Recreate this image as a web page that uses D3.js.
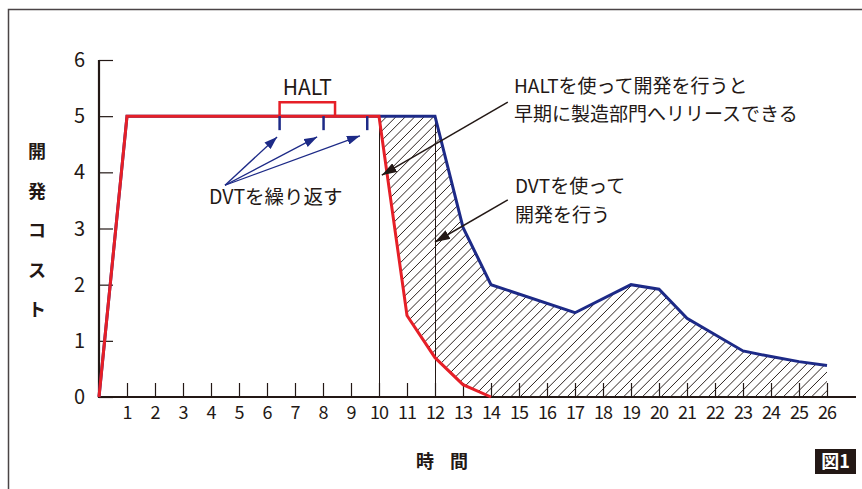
<!DOCTYPE html>
<html><head><meta charset="utf-8">
<script src="https://cdn.jsdelivr.net/npm/d3@7/dist/d3.min.js"></script>
<style>
html,body{margin:0;padding:0;background:#fff;}
svg{display:block;}
text{font-family:"Noto Sans CJK JP","Noto Sans",sans-serif;fill:#231815;}
</style></head>
<body>
<svg id="c" width="862" height="489"></svg>
<script>
// ---- data ----
const xTicks = d3.range(1, 27);
const yTicks = [0, 1, 2, 3, 4, 5, 6];
// DVT development (blue)
const blueTime  = [0, 1, 12, 13, 14, 17, 19, 20, 21, 23, 24, 25, 26];
const blueCost  = [0, 5, 5, 3.02, 2.0, 1.5, 2.0, 1.92, 1.4, 0.82, 0.72, 0.63, 0.56];
// HALT development (red)
const redTime   = [0, 1, 10, 11, 12, 13, 14];
const redCost   = [0, 5, 5, 1.45, 0.7, 0.22, 0];
// DVT repetitions and HALT span
const dvtTimes  = [6.45, 8.02, 9.58];
const haltSpan  = [6.45, 8.43];
const haltLevel = 5.25;
const releaseTimes = [10, 12];

const yLabel = ["開","発","コ","ス","ト"];
const xLabel = ["時","間"];

const svg = d3.select("#c");
const x = d3.scaleLinear().domain([0, 26]).range([99, 827]);
const y = d3.scaleLinear().domain([0, 6]).range([397, 60]);
const ink = "#231815", red = "#e61f27", blue = "#1d2a87";

// frame
svg.append("path").attr("d", "M8.5,489 V9.5 H862").attr("fill","none").attr("stroke","#4a4446").attr("stroke-width",1.5);

// defs
const defs = svg.append("defs");
function marker(id, color, w, h){
  defs.append("marker").attr("id",id).attr("viewBox",`0 0 ${w} ${h}`).attr("refX",w).attr("refY",h/2)
    .attr("markerWidth",w).attr("markerHeight",h).attr("markerUnits","userSpaceOnUse").attr("orient","auto")
    .append("path").attr("d",`M0,0 L${w},${h/2} L0,${h} Z`).attr("fill",color);
}
marker("ab", blue, 13, 9);
marker("ak", ink, 15, 10);

const pts = (ts, vs) => ts.map((t,i)=>[t, vs[i]]);
const line = d3.line().x(d=>x(d[0])).y(d=>y(d[1]));

// hatched area between red and blue after t=10
const bluePts = pts(blueTime, blueCost);
const redPts = pts(redTime, redCost);
const poly = [[10,5]].concat(bluePts.filter(d=>d[0]>10))
  .concat([[blueTime[blueTime.length-1], 0]])
  .concat(redPts.filter(d=>d[0]>=10).reverse());
defs.append("clipPath").attr("id","hclip").append("path").attr("d", line(poly)+"Z");
const hg = svg.append("g").attr("clip-path","url(#hclip)");
const step = 9.4;
for (let c = x(10) - (y(0)-y(5)) - 20; c < x(26) + 20; c += step) {
  hg.append("line").attr("x1",c).attr("y1",y(0)).attr("x2",c+(y(0)-y(5))).attr("y2",y(5))
    .attr("stroke",ink).attr("stroke-width",0.95);
}

// release vertical lines
releaseTimes.forEach(t=>{
  const xx = Math.round(x(t)) + 0.5;
  svg.append("line").attr("x1",xx).attr("x2",xx).attr("y1",y(0)).attr("y2",y(5))
    .attr("stroke",ink).attr("stroke-width",1).attr("shape-rendering","crispEdges");
});

// axes
const gy = svg.append("g").attr("transform",`translate(${x(0)},0)`)
  .call(d3.axisRight(y).tickValues(yTicks).tickSize(14).tickFormat(""));
gy.select(".domain").remove();
gy.selectAll("line").attr("stroke",ink).attr("stroke-width",1.2);
const gx = svg.append("g").attr("transform",`translate(0,${y(0)})`)
  .call(d3.axisTop(x).tickValues(xTicks).tickSize(14).tickFormat(""));
gx.select(".domain").remove();
gx.selectAll("line").attr("stroke",ink).attr("stroke-width",1.2);
svg.append("line").attr("x1",x(0)).attr("x2",x(0)).attr("y1",y(0)+1).attr("y2",y(6)).attr("stroke",ink).attr("stroke-width",2.2);
svg.append("line").attr("x1",x(0)-1).attr("x2",856).attr("y1",y(0)).attr("y2",y(0)).attr("stroke",ink).attr("stroke-width",2.2);

// tick labels
svg.selectAll(".yl").data(yTicks).enter().append("text")
  .attr("x",85).attr("y",d=>y(d)).attr("dy","0.35em").attr("text-anchor","end")
  .attr("font-size",20).text(d=>d);
svg.selectAll(".xl").data(xTicks).enter().append("text")
  .attr("x",d=>x(d)).attr("y",413).attr("dy","0.35em").attr("text-anchor","middle")
  .attr("font-size",18).attr("letter-spacing",-1).text(d=>d);

// axis titles
svg.selectAll(".yt").data(yLabel).enter().append("text")
  .attr("x",37).attr("y",(d,i)=>152+i*39.5).attr("dy","0.35em").attr("text-anchor","middle")
  .attr("font-size",18).attr("font-weight","bold").text(d=>d);
svg.selectAll(".xt").data(xLabel).enter().append("text")
  .attr("x",(d,i)=>425+i*34).attr("y",462).attr("dy","0.35em").attr("text-anchor","middle")
  .attr("font-size",18).attr("font-weight","bold").text(d=>d);

// series lines
svg.append("path").attr("d",line(bluePts)).attr("fill","none").attr("stroke",blue).attr("stroke-width",3).attr("stroke-linejoin","miter");
svg.append("path").attr("d",line(redPts)).attr("fill","none").attr("stroke",red).attr("stroke-width",3).attr("stroke-linejoin","miter");

// HALT bracket
svg.append("path").attr("d",`M${x(haltSpan[0])},${y(5)} V${y(haltLevel)} H${x(haltSpan[1])} V${y(5)}`)
  .attr("fill","none").attr("stroke",red).attr("stroke-width",2.5);
svg.append("text").attr("x",(x(haltSpan[0])+x(haltSpan[1]))/2).attr("y",95).attr("text-anchor","middle")
  .attr("font-size",21).text("HALT");

// DVT ticks
dvtTimes.forEach(t=>{
  svg.append("line").attr("x1",x(t)).attr("x2",x(t)).attr("y1",y(5)).attr("y2",y(5)+14)
    .attr("stroke",blue).attr("stroke-width",2.5);
});
// DVT arrows (data coords)
const dvtFrom = [4.5, 3.77];
const dvtTips = [[6.36,4.63],[7.79,4.63],[9.32,4.65]];
dvtTips.forEach(tp=>{
  svg.append("line").attr("x1",x(dvtFrom[0])).attr("y1",y(dvtFrom[1])).attr("x2",x(tp[0])).attr("y2",y(tp[1]))
    .attr("stroke",blue).attr("stroke-width",1.3).attr("marker-end","url(#ab)");
});
svg.append("text").attr("x",209).attr("y",204).attr("font-size",19.5).text("DVTを繰り返す");

// leader arrows
const leaders = [[[14.6,5.25],[10.1,3.95]], [[14.6,3.51],[12.0,2.76]]];
leaders.forEach(l=>{
  svg.append("line").attr("x1",x(l[0][0])).attr("y1",y(l[0][1])).attr("x2",x(l[1][0])).attr("y2",y(l[1][1]))
    .attr("stroke",ink).attr("stroke-width",1.5).attr("marker-end","url(#ak)");
});
const noteA = ["HALTを使って開発を行うと","早期に製造部門へリリースできる"];
const noteB = ["DVTを使って","開発を行う"];
noteA.forEach((s,i)=>svg.append("text").attr("x",514).attr("y",93+i*28).attr("font-size",19).text(s));
noteB.forEach((s,i)=>svg.append("text").attr("x",515).attr("y",193+i*29).attr("font-size",19).text(s));

// figure label
svg.append("rect").attr("x",815).attr("y",449).attr("width",41).attr("height",25).attr("fill",ink);
svg.append("text").attr("x",835.5).attr("y",461.5).attr("dy","0.36em").attr("text-anchor","middle")
  .attr("font-size",18).attr("font-weight","bold").style("fill","#fff").text("図1");
</script>
</body></html>
